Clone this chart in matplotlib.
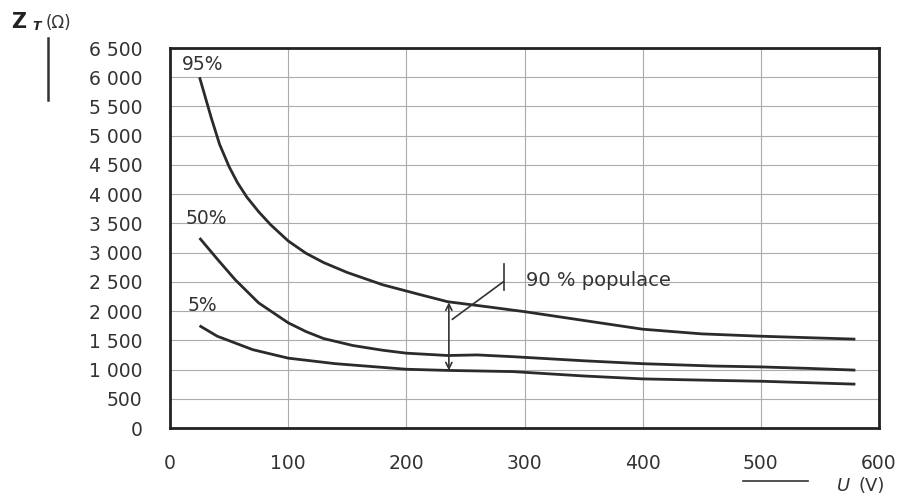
import matplotlib
matplotlib.use("Agg")
import matplotlib.pyplot as plt
from matplotlib.ticker import FuncFormatter

plt.rcParams['font.family'] = ['DejaVu Sans']

# Data
x95 = [25, 30, 35, 42, 50, 57, 65, 75, 85, 100, 115, 130, 150, 180, 210, 235, 270, 300, 350, 400, 450, 500, 540, 580]
z95 = [6000, 5650, 5300, 4850, 4470, 4200, 3950, 3700, 3480, 3200, 2990, 2830, 2660, 2450, 2290, 2160, 2070, 1990, 1840, 1690, 1610, 1570, 1545, 1520]

x50 = [25, 40, 55, 75, 100, 115, 130, 155, 180, 200, 235, 260, 290, 350, 400, 460, 500, 540, 580]
z50 = [3250, 2890, 2540, 2140, 1800, 1650, 1530, 1410, 1330, 1280, 1240, 1250, 1220, 1150, 1100, 1060, 1045, 1020, 990]

x5 = [25, 40, 70, 100, 140, 200, 235, 290, 350, 400, 460, 500, 540, 580]
z5 = [1750, 1570, 1340, 1195, 1100, 1005, 985, 965, 890, 840, 815, 800, 775, 750]

x_ticks = [0, 100, 200, 300, 400, 500, 600]
y_ticks = [0, 500, 1000, 1500, 2000, 2500, 3000, 3500, 4000, 4500, 5000, 5500, 6000, 6500]

curve_labels = ["95%", "50%", "5%"]
label_pos = [(10, 6210), (13, 3590), (15, 2090)]
arrow_x = 236
arrow_top, arrow_bottom = 2150, 985
annot_text = "90 % populace"

W, H = 902, 498
fig = plt.figure(figsize=(W / 100, H / 100), dpi=100)
ax = fig.add_axes([170 / W, 1 - 428 / H, (879 - 170) / W, (428 - 48) / H])

line_c = '#2b2b2b'
txt_c = '#333333'
for xs, zs in [(x95, z95), (x50, z50), (x5, z5)]:
    ax.plot(xs, zs, color=line_c, lw=2.0, solid_capstyle='butt', solid_joinstyle='round')

ax.set_xlim(0, 600)
ax.set_ylim(0, 6500)
ax.set_xticks(x_ticks)
ax.set_yticks(y_ticks)
ax.yaxis.set_major_formatter(FuncFormatter(lambda v, p: f"{int(v):,}".replace(",", " ")))
ax.grid(True, color='#ababab', lw=0.8)
ax.set_axisbelow(True)
ax.tick_params(length=0, labelsize=13.5, colors=txt_c)
ax.tick_params(axis='x', pad=19)
ax.tick_params(axis='y', pad=20)
for s in ax.spines.values():
    s.set_linewidth(2.0)
    s.set_color('#222222')

for t, (lx, ly) in zip(curve_labels, label_pos):
    ax.text(lx, ly, t, fontsize=13.5, color=txt_c, va='center', ha='left')

# double arrow representing 90 % of population
ax.annotate('', xy=(arrow_x, arrow_top), xytext=(arrow_x, arrow_bottom),
            arrowprops=dict(arrowstyle='<->', color=txt_c, lw=1.2, shrinkA=0, shrinkB=0,
                            mutation_scale=11))
ax.plot([239, 282], [1860, 2500], color=txt_c, lw=1.2)
ax.plot([283, 283], [2360, 2800], color=txt_c, lw=1.2)
ax.text(301, 2530, annot_text, fontsize=14, color=txt_c, va='center', ha='left')

# axis labels
fig.text(11 / W, 1 - 22 / H, "Z", fontsize=15, fontweight='bold', color='#222222', va='center', ha='left')
fig.text(32 / W, 1 - 26 / H, "T", fontsize=9, fontweight='bold', fontstyle='italic', color='#222222', va='center', ha='left')
fig.text(46 / W, 1 - 23 / H, "(Ω)", fontsize=12, color=txt_c, va='center', ha='left')
fig.add_artist(plt.Line2D([48 / W, 48 / W], [1 - 38 / H, 1 - 100 / H], color=txt_c, lw=1.8))

fig.add_artist(plt.Line2D([743 / W, 808 / W], [1 - 481 / H, 1 - 481 / H], color=txt_c, lw=1.2))
fig.text(837 / W, 1 - 486 / H, "U", fontsize=13, fontstyle='italic', color=txt_c, va='center', ha='left')
fig.text(859 / W, 1 - 486 / H, "(V)", fontsize=13, color=txt_c, va='center', ha='left')

fig.savefig('out.png', dpi=100, facecolor='white')
